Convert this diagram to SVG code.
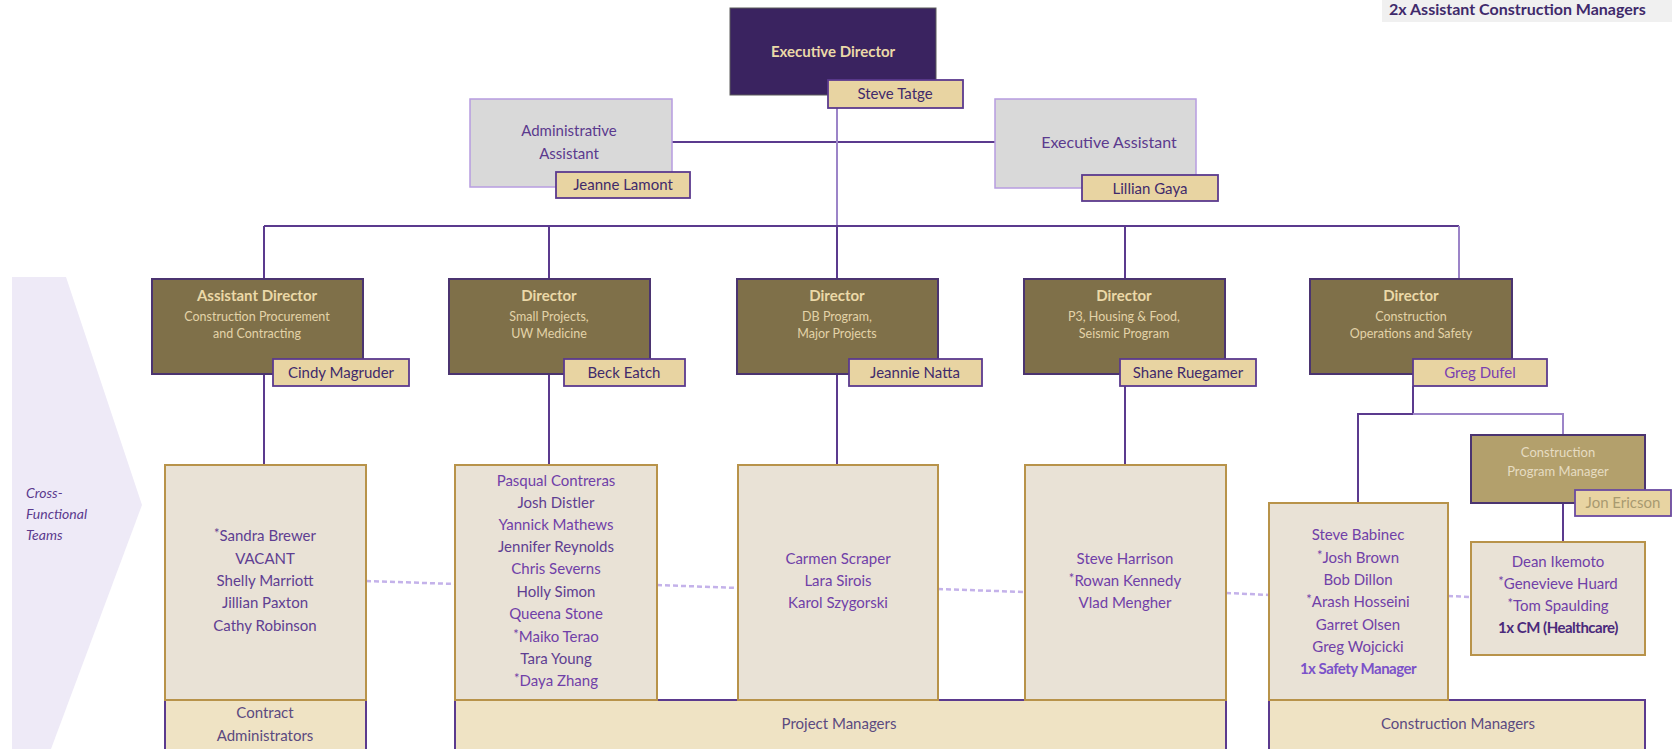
<svg xmlns="http://www.w3.org/2000/svg" width="1672" height="749" viewBox="0 0 1672 749">
<style>
text{font-family:Lato,"Open Sans","Liberation Sans",sans-serif;text-anchor:middle}
.exec{fill:#3A2360;stroke:#5a5a5a;stroke-width:1}
.admin{fill:#D9D9D9;stroke:#B79CE0;stroke-width:1.5}
.dir{fill:#7F7049;stroke:#4B3470;stroke-width:2}
.cpm{fill:#B3A06C;stroke:#4B3470;stroke-width:2}
.lbl{fill:#E8D4A2;stroke:#5B3A8E;stroke-width:1.8}
.team{fill:#E9E2D6;stroke:#B8934A;stroke-width:2}
.bar{fill:#EFE3C4;stroke:#5B3A8E;stroke-width:2}
.ttl{fill:#EBD9A8;font-weight:bold;font-size:15px}
.sub{fill:#E3D3A8;font-size:12.5px}
.lt{fill:#3F2A6B;font-size:15px}
.nm{fill:#5E3E92;font-size:15px}
.gt{fill:#5B3A8E;font-size:15px}
.ast{font-size:13px}
.ln{stroke:#5B3A8E;stroke-width:2;fill:none}
.ln2{stroke:#9C84C8;stroke-width:2;fill:none}
.dash{stroke:#C4B2EA;stroke-width:2.5;stroke-dasharray:5 3;fill:none}
</style>
<polygon points="12,277 66,277 142,505 51,749 12,749" fill="#EEEAF7"/>
<g id="cross-label">
<text x="26" y="498" style="text-anchor:start;font-style:italic;font-size:14px;fill:#5B3A8E">Cross-</text>
<text x="26" y="519" style="text-anchor:start;font-style:italic;font-size:14px;fill:#5B3A8E">Functional</text>
<text x="26" y="540" style="text-anchor:start;font-style:italic;font-size:14px;fill:#5B3A8E">Teams</text>
</g>
<g id="top-right">
<rect x="1382" y="-2" width="292" height="24" fill="#F0F0F0"/>
<text x="1389" y="15" style="text-anchor:start;font-size:16px;font-weight:bold;fill:#3F2A6B">2x Assistant Construction Managers</text>
</g>
<g id="connectors">
<line class="ln" x1="672" y1="142" x2="995" y2="142"/>
<line class="ln2" x1="837" y1="95" x2="837" y2="226"/>
<line class="ln" x1="264" y1="226" x2="1459" y2="226"/>
<line class="ln" x1="264" y1="226" x2="264" y2="279"/>
<line class="ln" x1="549" y1="226" x2="549" y2="279"/>
<line class="ln" x1="837" y1="226" x2="837" y2="279"/>
<line class="ln" x1="1125" y1="226" x2="1125" y2="279"/>
<line class="ln2" x1="1459" y1="226" x2="1459" y2="279"/>
<line class="ln" x1="264" y1="374" x2="264" y2="465"/>
<line class="ln" x1="549" y1="374" x2="549" y2="465"/>
<line class="ln" x1="837" y1="374" x2="837" y2="465"/>
<line class="ln" x1="1125" y1="374" x2="1125" y2="465"/>
<polyline class="ln" points="1413,386 1413,414 1358,414 1358,503"/>
<polyline class="ln2" points="1413,414 1563,414 1563,435"/>
<line class="ln" x1="1563" y1="503" x2="1563" y2="542"/>
<line class="dash" x1="366" y1="581" x2="455" y2="584"/>
<line class="dash" x1="657" y1="585" x2="738" y2="588"/>
<line class="dash" x1="938" y1="589" x2="1025" y2="592"/>
<line class="dash" x1="1226" y1="593" x2="1269" y2="595"/>
<line class="dash" x1="1448" y1="596" x2="1471" y2="597"/>
</g>
<g id="executive-director">
<rect class="exec" x="730" y="8" width="206" height="87"/>
<text class="ttl" x="833" y="57">Executive Director</text>
<rect class="lbl" x="828" y="80" width="135" height="28"/>
<text class="lt" x="895" y="99">Steve Tatge</text>
</g>
<g id="administrative-assistant">
<rect class="admin" x="470" y="99" width="202" height="88"/>
<text class="gt" x="569" y="136">Administrative</text>
<text class="gt" x="569" y="159">Assistant</text>
<rect class="lbl" x="556" y="172" width="134" height="26"/>
<text class="lt" x="623" y="190">Jeanne Lamont</text>
</g>
<g id="executive-assistant">
<rect class="admin" x="995" y="99" width="201" height="89"/>
<text class="gt" x="1109" y="148" style="font-size:16px">Executive Assistant</text>
<rect class="lbl" x="1082" y="175" width="136" height="26"/>
<text class="lt" x="1150" y="194">Lillian Gaya</text>
</g>
<g id="director-procurement">
<rect class="dir" x="152" y="279" width="211" height="95"/>
<text class="ttl" x="257" y="301">Assistant Director</text>
<text class="sub" x="257" y="321">Construction Procurement</text>
<text class="sub" x="257" y="338">and Contracting</text>
<rect class="lbl" x="273" y="359" width="136" height="27"/>
<text class="lt" x="341" y="378">Cindy Magruder</text>
</g>
<g id="director-small-projects">
<rect class="dir" x="449" y="279" width="201" height="95"/>
<text class="ttl" x="549" y="301">Director</text>
<text class="sub" x="549" y="321">Small Projects,</text>
<text class="sub" x="549" y="338">UW Medicine</text>
<rect class="lbl" x="564" y="359" width="121" height="27"/>
<text class="lt" x="624" y="378">Beck Eatch</text>
</g>
<g id="director-db">
<rect class="dir" x="737" y="279" width="201" height="95"/>
<text class="ttl" x="837" y="301">Director</text>
<text class="sub" x="837" y="321">DB Program,</text>
<text class="sub" x="837" y="338">Major Projects</text>
<rect class="lbl" x="849" y="359" width="133" height="27"/>
<text class="lt" x="915" y="378">Jeannie Natta</text>
</g>
<g id="director-p3">
<rect class="dir" x="1024" y="279" width="201" height="95"/>
<text class="ttl" x="1124" y="301">Director</text>
<text class="sub" x="1124" y="321">P3, Housing &amp; Food,</text>
<text class="sub" x="1124" y="338">Seismic Program</text>
<rect class="lbl" x="1120" y="359" width="136" height="27"/>
<text class="lt" x="1188" y="378">Shane Ruegamer</text>
</g>
<g id="director-construction">
<rect class="dir" x="1310" y="279" width="202" height="95"/>
<text class="ttl" x="1411" y="301">Director</text>
<text class="sub" x="1411" y="321">Construction</text>
<text class="sub" x="1411" y="338">Operations and Safety</text>
<rect class="lbl" x="1413" y="359" width="134" height="27"/>
<text class="lt" x="1480" y="378" style="fill:#7A3FB0">Greg Dufel</text>
</g>
<g id="contract-administrators">
<rect class="bar" x="165" y="700" width="201" height="51"/>
<rect class="team" x="165" y="465" width="201" height="235"/>
<text class="nm" x="265" y="541"><tspan class="ast" baseline-shift="3">*</tspan>Sandra Brewer</text>
<text class="nm" x="265" y="564">VACANT</text>
<text class="nm" x="265" y="586">Shelly Marriott</text>
<text class="nm" x="265" y="608">Jillian Paxton</text>
<text class="nm" x="265" y="631">Cathy Robinson</text>
<text class="gt" x="265" y="718" style="fill:#5B4A80">Contract</text>
<text class="gt" x="265" y="741" style="fill:#5B4A80">Administrators</text>
</g>
<g id="project-managers">
<rect class="bar" x="455" y="700" width="771" height="51"/>
<text class="gt" x="839" y="729" style="fill:#5B4A80">Project Managers</text>
</g>
<g id="team-small-projects">
<rect class="team" x="455" y="465" width="202" height="235"/>
<text class="nm" x="556" y="486" style="fill:#7040A8">Pasqual Contreras</text>
<text class="nm" x="556" y="508">Josh Distler</text>
<text class="nm" x="556" y="530" style="fill:#7040A8">Yannick Mathews</text>
<text class="nm" x="556" y="552">Jennifer Reynolds</text>
<text class="nm" x="556" y="574" style="fill:#7040A8">Chris Severns</text>
<text class="nm" x="556" y="597">Holly Simon</text>
<text class="nm" x="556" y="619" style="fill:#7040A8">Queena Stone</text>
<text class="nm" x="556" y="642" style="fill:#7040A8"><tspan class="ast" baseline-shift="3">*</tspan>Maiko Terao</text>
<text class="nm" x="556" y="664">Tara Young</text>
<text class="nm" x="556" y="686" style="fill:#7040A8"><tspan class="ast" baseline-shift="3">*</tspan>Daya Zhang</text>
</g>
<g id="team-db">
<rect class="team" x="738" y="465" width="200" height="235"/>
<text class="nm" x="838" y="564" style="fill:#7040A8">Carmen Scraper</text>
<text class="nm" x="838" y="586" style="fill:#7040A8">Lara Sirois</text>
<text class="nm" x="838" y="608" style="fill:#7040A8">Karol Szygorski</text>
</g>
<g id="team-p3">
<rect class="team" x="1025" y="465" width="201" height="235"/>
<text class="nm" x="1125" y="564" style="fill:#7040A8">Steve Harrison</text>
<text class="nm" x="1125" y="586" style="fill:#7040A8"><tspan class="ast" baseline-shift="3">*</tspan>Rowan Kennedy</text>
<text class="nm" x="1125" y="608" style="fill:#7040A8">Vlad Mengher</text>
</g>
<g id="construction-managers">
<rect class="bar" x="1269" y="700" width="376" height="51"/>
<text class="gt" x="1458" y="729" style="fill:#5B4A80">Construction Managers</text>
</g>
<g id="team-construction">
<rect class="team" x="1269" y="503" width="179" height="197"/>
<text class="nm" x="1358" y="540" style="fill:#7040A8">Steve Babinec</text>
<text class="nm" x="1358" y="563" style="fill:#7040A8"><tspan class="ast" baseline-shift="3">*</tspan>Josh Brown</text>
<text class="nm" x="1358" y="585" style="fill:#7040A8">Bob Dillon</text>
<text class="nm" x="1358" y="607" style="fill:#7040A8"><tspan class="ast" baseline-shift="3">*</tspan>Arash Hosseini</text>
<text class="nm" x="1358" y="630" style="fill:#7040A8">Garret Olsen</text>
<text class="nm" x="1358" y="652" style="fill:#7040A8">Greg Wojcicki</text>
<text class="nm" x="1358" y="674" style="fill:#7B52C9;font-weight:bold;letter-spacing:-0.5px">1x Safety Manager</text>
</g>
<g id="construction-program-manager">
<rect class="cpm" x="1471" y="435" width="174" height="68"/>
<text x="1558" y="457" style="fill:#E6DCC2;font-size:13px">Construction</text>
<text x="1558" y="476" style="fill:#E6DCC2;font-size:13px">Program Manager</text>
<rect class="lbl" x="1575" y="490" width="96" height="26" style="stroke:#6B4AA0"/>
<text x="1623" y="508" style="fill:#A89A70;font-size:15px">Jon Ericson</text>
</g>
<g id="team-healthcare">
<rect class="team" x="1471" y="542" width="174" height="113"/>
<text class="nm" x="1558" y="567" style="fill:#7040A8">Dean Ikemoto</text>
<text class="nm" x="1558" y="589" style="fill:#7040A8"><tspan class="ast" baseline-shift="3">*</tspan>Genevieve Huard</text>
<text class="nm" x="1558" y="611" style="fill:#7040A8"><tspan class="ast" baseline-shift="3">*</tspan>Tom Spaulding</text>
<text class="nm" x="1558" y="633" style="fill:#4B2A7B;font-weight:bold;letter-spacing:-0.5px">1x CM (Healthcare)</text>
</g>
</svg>
